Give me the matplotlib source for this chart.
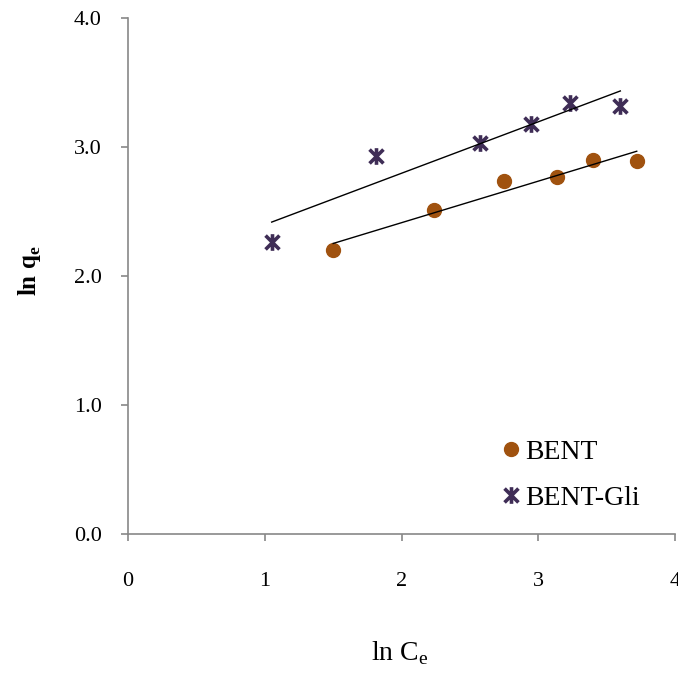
import numpy as np
import matplotlib.pyplot as plt
from matplotlib.path import Path

# ln Ce / ln qe
bent_x = [1.50, 2.24, 2.75, 3.14, 3.40, 3.72]
bent_y = [2.20, 2.51, 2.74, 2.77, 2.90, 2.89]
gli_x = [1.05, 1.81, 2.57, 2.95, 3.23, 3.60]
gli_y = [2.26, 2.93, 3.03, 3.18, 3.34, 3.32]

plt.rcParams['font.family'] = ['Liberation Serif', 'DejaVu Serif']

# Excel-like star marker: an X with a vertical bar
star = Path([(-1, -1), (1, 1), (-1, 1), (1, -1), (0, -1.2), (0, 1.2)],
            [Path.MOVETO, Path.LINETO, Path.MOVETO, Path.LINETO, Path.MOVETO, Path.LINETO])

fig = plt.figure(figsize=(6.78, 6.8), dpi=100)
ax = fig.add_axes([0.189, 0.2147, 0.8066, 0.7588])

ax.plot(bent_x, bent_y, 'o', color='#A0520F', markersize=10, label='BENT', linestyle='none')
ax.plot(gli_x, gli_y, marker=star, color='#3F2D56', markersize=12, markeredgewidth=2.6,
        label='BENT-Gli', linestyle='none')

# linear trend lines over the data range
for xs, ys in [(bent_x, bent_y), (gli_x, gli_y)]:
    k, b = np.polyfit(xs, ys, 1)
    xx = np.array([min(xs), max(xs)])
    ax.plot(xx, k * xx + b, color='black', linewidth=1)

ax.set_xlim(0, 4)
ax.set_ylim(0, 4)
ax.set_xticks([0, 1, 2, 3, 4])
ax.set_yticks([0, 1, 2, 3, 4])
ax.set_yticklabels(['0.0', '1.0', '2.0', '3.0', '4.0'])

for s in ['top', 'right']:
    ax.spines[s].set_visible(False)
for s in ['left', 'bottom']:
    ax.spines[s].set_color('#888888')
    ax.spines[s].set_linewidth(1.2)
ax.tick_params(direction='out', length=5, width=1.2, color='#888888', labelsize=16)
ax.tick_params(axis='y', pad=14)
ax.tick_params(axis='x', pad=22)

ax.set_xlabel(r'ln C$_\mathregular{e}$', fontsize=20)
ax.xaxis.set_label_coords(0.497, -0.203)
ax.set_ylabel(r'ln q$_\mathregular{e}$', fontsize=18, fontweight='bold')
ax.yaxis.set_label_coords(-0.155, 0.51)

ax.legend(loc='upper left', bbox_to_anchor=(0.66, 0.205), frameon=False, fontsize=20,
          borderaxespad=0, handletextpad=0.1, labelspacing=0.73, handlelength=0.8)

plt.savefig('out.png')
